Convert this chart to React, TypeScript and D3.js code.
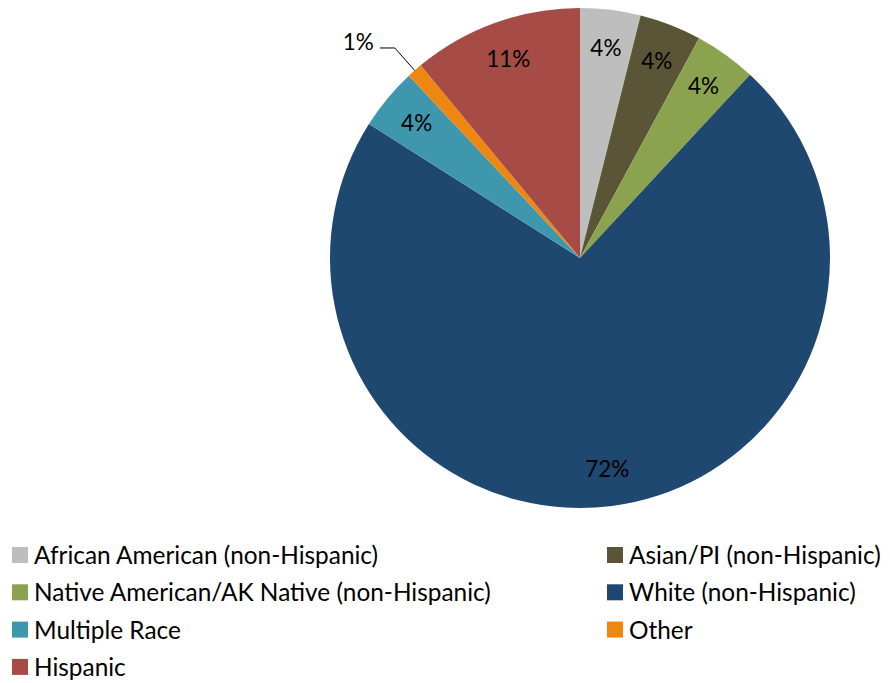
import React from "react";
import * as d3 from "d3";

const categories = [
  "African American (non-Hispanic)",
  "Asian/PI (non-Hispanic)",
  "Native American/AK Native (non-Hispanic)",
  "White (non-Hispanic)",
  "Multiple Race",
  "Other",
  "Hispanic",
];
const values = [3.9, 4.0, 4.0, 72.1, 4.0, 1.0, 11.0];
const labels = ["4%", "4%", "4%", "72%", "4%", "1%", "11%"];
const colors = ["#BEBEBE", "#5B5538", "#8BA34E", "#1F4870", "#3E97AD", "#EE8712", "#A64B46"];

const W = 890;
const H = 683;
const CX = 580;
const CY = 258;
const R = 250;
const LABEL_R = 212;
const FONT = "Lato, 'Open Sans', sans-serif";
const FS_LABEL = 22.5;
const FS_LEGEND = 24.4;

export default function App() {
  const data = categories.map((c, i) => ({ name: c, value: values[i], label: labels[i], color: colors[i] }));
  const pie = d3.pie<any>().sort(null).value((d: any) => d.value);
  const arcs = pie(data);
  const arc = d3.arc<any>().innerRadius(0).outerRadius(R);
  const labelArc = d3.arc<any>().innerRadius(LABEL_R).outerRadius(LABEL_R);
  const edgeArc = d3.arc<any>().innerRadius(R).outerRadius(R);
  const elbowArc = d3.arc<any>().innerRadius(280).outerRadius(280);

  const legendX = [12, 607];
  const legendY0 = 547;
  const legendDY = 37.3;

  return (
    <svg width={W} height={H} style={{ position: "absolute", left: 0, top: 0 }} fontFamily={FONT}>
      <rect width={W} height={H} fill="#fff" />
      <g transform={`translate(${CX},${CY})`}>
        {arcs.map((a, i) => (
          <path key={i} d={arc(a) as string} fill={a.data.color} />
        ))}
        {arcs.map((a, i) => {
          if (a.data.value < 2) {
            const [ex, ey] = edgeArc.centroid(a);
            const [bx, by] = elbowArc.centroid(a);
            const hx = bx - 15;
            return (
              <g key={"l" + i}>
                <polyline points={`${ex},${ey} ${bx},${by} ${hx},${by}`} fill="none" stroke="#000" strokeWidth={1} />
                <text x={hx - 6} y={by + 2} textAnchor="end" fontSize={FS_LABEL} fill="#000">
                  {a.data.label}
                </text>
              </g>
            );
          }
          const [x, y] = labelArc.centroid(a);
          return (
            <text key={"l" + i} x={x} y={y} textAnchor="middle" dominantBaseline="central" fontSize={FS_LABEL} fill="#000">
              {a.data.label}
            </text>
          );
        })}
      </g>
      <g>
        {data.map((d, i) => {
          const col = i % 2;
          const row = Math.floor(i / 2);
          const x = legendX[col];
          const y = legendY0 + row * legendDY;
          return (
            <g key={"lg" + i} transform={`translate(${x},${y})`}>
              <rect width={16} height={16} fill={d.color} />
              <text x={22} y={17} fontSize={FS_LEGEND} fill="#000">
                {d.name}
              </text>
            </g>
          );
        })}
      </g>
    </svg>
  );
}
